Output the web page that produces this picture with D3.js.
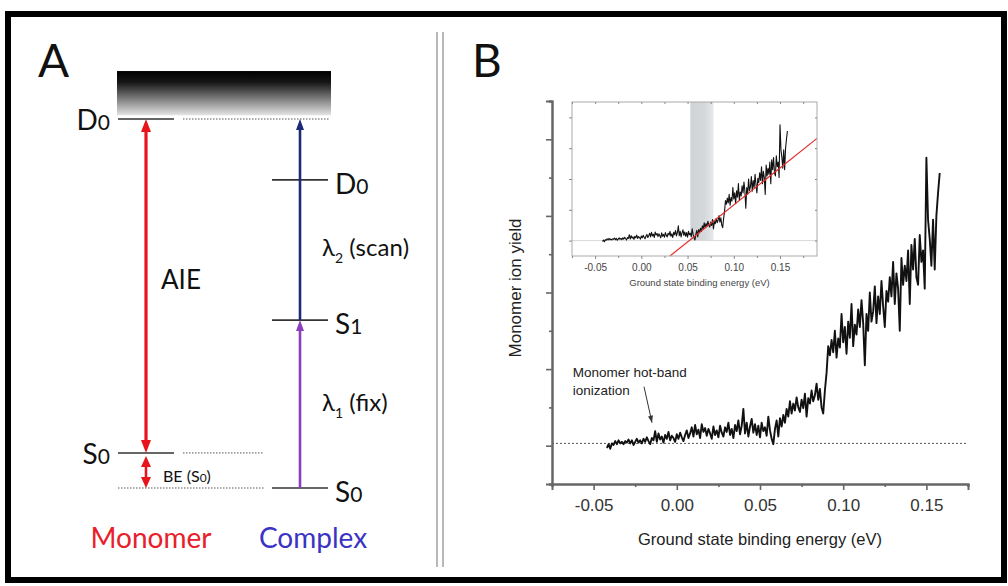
<!DOCTYPE html>
<html>
<head>
<meta charset="utf-8">
<script src="https://cdn.jsdelivr.net/npm/d3@7"></script>
<style>
body { margin: 0; background: #fff; }
svg { display: block; }
</style>
</head>
<body>
<div id="chart"></div>
<script>
// panel A : energy levels, arbitrary units (complex S0 = 0, ionization D0 = 10)
var levelNames = ["D", "S", "D", "S", "S"];
var levelSubs = ["0", "0", "0", "1", "0"];
var levelColumns = ["Monomer", "Monomer", "Complex", "Complex", "Complex"];
var levelEnergy = [10, 0.95, 8.35, 4.55, 0];
var levelSide = ["left", "left", "right", "right", "right"];

var transFrom = [10, 0.95, 0, 4.55];
var transTo = [0.95, 0, 4.55, 10];
var transColumns = ["Monomer", "Monomer", "Complex", "Complex"];
var transColors = ["#e8141c", "#e8141c", "#8b3fbf", "#1c2a78"];
var transHeads = ["both", "both", "end", "end"];

var columnNames = ["Monomer", "Complex"];
var columnColors = ["#e8202a", "#3a33c4"];
var continuumTop = 11.3;

// panel B : monomer ion yield vs ground state binding energy
var xTicks = [-0.05, 0.00, 0.05, 0.10, 0.15];
var xMinor = [-0.075, -0.025, 0.025, 0.075, 0.125, 0.175];
var yTicks = [0, 1, 2, 3, 4];
var yMinor = [-0.5, 0.5, 1.5, 2.5, 3.5, 4.5];
var insetMinor = [-0.075, -0.025, 0.025, 0.075, 0.125, 0.175];

var traceStart = -0.042;
var traceStep = 0.001;
var traceY = [
	-0.03, 0.02, -0.04, 0.03, 0.01, 0.06, 0.02, 0.07, 0.03, 0.05,
	0.02, 0.06, 0.04, 0.08, 0.03, 0.07, 0.01, 0.05, 0.09, 0.04,
	0.07, 0.03, 0.09, 0.05, 0.11, 0.06, 0.02, 0.10, 0.07, 0.19,
	0.05, 0.16, 0.08, 0.12, 0.04, 0.14, 0.09, 0.18, 0.07, 0.13,
	0.10, 0.05, 0.15, 0.09, 0.17, 0.11, 0.06, 0.14, 0.20, 0.10,
	0.16, 0.24, 0.12, 0.27, 0.15, 0.21, 0.10, 0.28, 0.18, 0.23,
	0.13, 0.22, 0.16, 0.09, 0.25, 0.14, 0.20, 0.11, 0.26, 0.17,
	0.12, 0.24, 0.18, 0.30, 0.14, 0.22, 0.10, 0.27, 0.19, 0.33,
	0.15, 0.26, 0.48, 0.16, 0.30, 0.12, 0.25, 0.35, 0.17, 0.28,
	0.14, 0.26, 0.11, 0.30, 0.19, 0.24, 0.13, 0.38, 0.20, 0.09,
	0.02, 0.22, 0.33, 0.12, 0.36, 0.25, 0.40, 0.30, 0.48, 0.38,
	0.58, 0.42, 0.55, 0.46, 0.63, 0.50, 0.44, 0.60, 0.49, 0.68,
	0.38, 0.62, 0.55, 0.72, 0.58, 0.66, 0.81, 0.60, 0.74, 0.50,
	0.42, 0.72, 0.95, 1.30, 1.18, 1.38, 1.22, 1.50, 1.15, 1.40,
	1.28, 1.72, 1.35, 1.55, 1.20, 1.62, 1.41, 1.85, 1.30, 1.58,
	1.45, 1.78, 1.55, 1.90, 1.60, 1.05, 1.72, 1.50, 2.00, 1.62,
	1.75, 2.08, 1.60, 1.95, 1.72, 2.15, 1.82, 1.55, 2.02, 1.88,
	2.20, 1.95, 2.40, 1.85, 2.25, 2.05, 1.50, 2.45, 2.10, 2.35,
	2.15, 2.55, 1.85, 2.62, 2.30, 2.70, 2.20, 2.10, 2.75, 2.40,
	2.55, 2.05, 3.76, 2.95, 2.70, 2.35, 2.95, 2.30, 3.00, 3.30,
	3.56
];
var baselineY = 0.03;
var fitX = [0.031, 0.19];
var fitY = [-0.5, 3.32];
var bandX = [0.053, 0.078];
var annotText = ["Monomer hot-band", "ionization"];
var annotTextY = [0.9, 0.66];
var annotArrowX = [-0.0197, -0.0149];
var annotArrowY = [0.77, 0.30];

var width = 1008, height = 586;
var fontA = "Lato, 'Open Sans', sans-serif";
var fontB = "'Liberation Sans', Arial, sans-serif";
var fmt = function(d) { return d3.format(".2f")(d).replace("\u2212", "-"); };

var svg = d3.select("#chart").append("svg")
	.attr("width", width)
	.attr("height", height);

svg.append("rect").attr("width", width).attr("height", height).attr("fill", "#fff");

// outer frame + separator
svg.append("rect")
	.attr("x", 8).attr("y", 14)
	.attr("width", 996).attr("height", 566)
	.attr("fill", "none")
	.attr("stroke", "#000")
	.attr("stroke-width", 6);

[437, 443].forEach(function(x) {
	svg.append("line")
		.attr("x1", x).attr("x2", x)
		.attr("y1", 32).attr("y2", 567)
		.attr("stroke", "#9a9a9a")
		.attr("stroke-width", 1.4);
});

svg.append("text").attr("x", 38).attr("y", 77)
	.style("font-family", fontA).style("font-size", "46px").attr("fill", "#111")
	.text("A");
svg.append("text").attr("x", 472).attr("y", 77)
	.style("font-family", fontA).style("font-size", "46px").attr("fill", "#111")
	.text("B");

drawPanelA();
drawPanelB();

function drawPanelA() {
	var yA = d3.scaleLinear().domain([0, 10]).range([488, 119]);
	var xA = d3.scaleOrdinal().domain(columnNames).range([146, 300]);
	var half = 28;
	var g = svg.append("g").attr("id", "panel-a");

	var grad = svg.append("defs").append("linearGradient")
		.attr("id", "continuum")
		.attr("x1", 0).attr("x2", 0).attr("y1", 0).attr("y2", 1);
	grad.append("stop").attr("offset", "0%").attr("stop-color", "#000");
	grad.append("stop").attr("offset", "25%").attr("stop-color", "#151515");
	grad.append("stop").attr("offset", "100%").attr("stop-color", "#e4e4e4");

	g.append("rect")
		.attr("x", xA("Monomer") - half - 1)
		.attr("y", yA(continuumTop))
		.attr("width", xA("Complex") + 31 - (xA("Monomer") - half - 1))
		.attr("height", yA(10.1) - yA(continuumTop))
		.attr("fill", "url(#continuum)");

	// dotted reference lines
	var dots = [
		[xA("Monomer") + 37, xA("Complex") + 30, 10],
		[xA("Monomer") + 37, xA("Complex") - 37, levelEnergy[1]],
		[xA("Monomer") - half, xA("Complex") - 35, 0]
	];
	g.selectAll("line.dot")
		.data(dots)
		.enter()
		.append("line")
		.attr("class", "dot")
		.attr("x1", function(d) { return d[0]; })
		.attr("x2", function(d) { return d[1]; })
		.attr("y1", function(d) { return yA(d[2]); })
		.attr("y2", function(d) { return yA(d[2]); })
		.attr("stroke", "#555")
		.attr("stroke-width", 1)
		.attr("stroke-dasharray", "1.5,1.5");

	g.selectAll("line.level")
		.data(levelEnergy)
		.enter()
		.append("line")
		.attr("class", "level")
		.attr("x1", function(d, i) { return xA(levelColumns[i]) - half; })
		.attr("x2", function(d, i) { return xA(levelColumns[i]) + half; })
		.attr("y1", function(d) { return yA(d); })
		.attr("y2", function(d) { return yA(d); })
		.attr("stroke", "#333")
		.attr("stroke-width", 1.6);

	// transitions
	transFrom.forEach(function(e0, i) {
		var x = xA(transColumns[i]);
		var y0 = yA(e0), y1 = yA(transTo[i]);
		var dir = y1 > y0 ? 1 : -1;
		var big = i == 0;
		var hl = big ? 13 : 11;
		var hw = big ? 10 : (i == 1 ? 10 : 8);
		if (i == 1) y0 = y0 + 3;
		var s0 = y0, s1 = y1;
		if (transHeads[i] == "both") s0 = y0 + dir * (hl - 1);
		s1 = y1 - dir * (hl - 1);
		g.append("line")
			.attr("x1", x).attr("x2", x)
			.attr("y1", s0).attr("y2", s1)
			.attr("stroke", transColors[i])
			.attr("stroke-width", big ? 3.2 : 2.6);
		g.append("path")
			.attr("d", head(x, y1, dir, hw, hl))
			.attr("fill", transColors[i]);
		if (transHeads[i] == "both") {
			g.append("path")
				.attr("d", head(x, y0, -dir, hw, hl))
				.attr("fill", transColors[i]);
		}
	});

	function head(x, tip, dir, w, l) {
		var base = tip - dir * l;
		return "M" + x + "," + tip + "L" + (x - w / 2) + "," + base + "L" + (x + w / 2) + "," + base + "Z";
	}

	// level labels
	levelEnergy.forEach(function(e, i) {
		var left = levelSide[i] == "left";
		var t = g.append("text")
			.attr("x", left ? xA(levelColumns[i]) - 36 : xA(levelColumns[i]) + 35)
			.attr("y", yA(e) + (left ? 11 : 14))
			.attr("text-anchor", left ? "end" : "start")
			.style("font-family", fontA)
			.attr("fill", "#111");
		t.append("tspan").style("font-size", "28px").text(levelNames[i]);
		t.append("tspan").style("font-size", "21px").text(levelSubs[i]);
	});

	g.append("text")
		.attr("x", xA("Monomer") + 15).attr("y", yA(5.4))
		.style("font-family", fontA).style("font-size", "26px").attr("fill", "#111")
		.text("AIE");

	var be = g.append("text")
		.attr("x", xA("Monomer") + 17).attr("y", yA(0.15))
		.style("font-family", fontA).style("font-size", "16px").attr("fill", "#111");
	be.append("tspan").text("BE (S");
	be.append("tspan").style("font-size", "12px").text("0");
	be.append("tspan").text(")");

	var lam = [["2", " (scan)", 6.3], ["1", " (fix)", 2.1]];
	lam.forEach(function(d) {
		var t = g.append("text")
			.attr("x", xA("Complex") + 22).attr("y", yA(d[2]))
			.style("font-family", fontA).style("font-size", "24px").attr("fill", "#111");
		t.append("tspan").text("λ");
		t.append("tspan").attr("dy", 7).style("font-size", "14px").text(d[0]);
		t.append("tspan").attr("dy", -7).text(d[1]);
	});

	g.selectAll("text.col")
		.data(columnNames)
		.enter()
		.append("text")
		.attr("class", "col")
		.attr("x", function(d) { return xA(d) + (d == "Monomer" ? 5 : 13); })
		.attr("y", 548)
		.attr("text-anchor", "middle")
		.style("font-family", fontA)
		.style("font-size", "28px")
		.attr("fill", function(d, i) { return columnColors[i]; })
		.text(function(d) { return d; });
}

function drawPanelB() {
	var x = d3.scaleLinear().domain([-0.075, 0.175]).range([552, 968]);
	var y = d3.scaleLinear().domain([-0.5, 4.5]).range([484, 101]);
	var trace = traceY.map(function(v, i) { return [traceStart + i * traceStep, v]; });
	var g = svg.append("g").attr("id", "panel-b").style("font-family", fontB);

	g.append("line")
		.attr("x1", x(-0.075)).attr("x2", x(0.175))
		.attr("y1", y(baselineY)).attr("y2", y(baselineY))
		.attr("stroke", "#555")
		.attr("stroke-width", 1)
		.attr("stroke-dasharray", "2,2");

	var line = d3.line()
		.x(function(d) { return x(d[0]); })
		.y(function(d) { return y(d[1]); });

	g.append("path")
		.datum(trace)
		.attr("d", line)
		.attr("fill", "none")
		.attr("stroke", "#111")
		.attr("stroke-width", 1.9)
		.attr("stroke-linejoin", "round");

	// axes
	var xAxis = g.append("g").attr("transform", "translate(0," + y(-0.5) + ")")
		.call(d3.axisBottom(x).tickValues(xTicks).tickSize(6).tickPadding(9).tickFormat(fmt));
	g.append("g").attr("transform", "translate(0," + y(-0.5) + ")")
		.call(d3.axisBottom(x).tickValues(xMinor).tickSize(3).tickFormat(""));
	g.append("g").attr("transform", "translate(" + x(-0.075) + ",0)")
		.call(d3.axisLeft(y).tickValues(yTicks).tickSize(6).tickFormat(""));
	g.append("g").attr("transform", "translate(" + x(-0.075) + ",0)")
		.call(d3.axisLeft(y).tickValues(yMinor).tickSize(3).tickFormat(""));
	g.selectAll(".domain").attr("stroke", "#666").attr("stroke-width", 2);
	g.selectAll(".tick line").attr("stroke", "#666").attr("stroke-width", 1.6);
	xAxis.selectAll("text")
		.style("font-family", fontB).style("font-size", "17px").attr("fill", "#333");

	g.append("text")
		.attr("x", 760).attr("y", 545)
		.attr("text-anchor", "middle")
		.style("font-size", "16.5px").attr("fill", "#222")
		.text("Ground state binding energy (eV)");

	g.append("text")
		.attr("transform", "translate(521,288) rotate(-90)")
		.attr("text-anchor", "middle")
		.style("font-size", "17px").attr("fill", "#222")
		.text("Monomer ion yield");

	// annotation
	g.selectAll("text.annot")
		.data(annotText)
		.enter()
		.append("text")
		.attr("class", "annot")
		.attr("x", x(-0.0625))
		.attr("y", function(d, i) { return y(annotTextY[i]); })
		.style("font-size", "13.5px").attr("fill", "#222")
		.text(function(d) { return d; });

	var ax0 = x(annotArrowX[0]), ay0 = y(annotArrowY[0]);
	var ax1 = x(annotArrowX[1]), ay1 = y(annotArrowY[1]);
	g.append("line")
		.attr("x1", ax0).attr("y1", ay0).attr("x2", ax1).attr("y2", ay1)
		.attr("stroke", "#333").attr("stroke-width", 1);
	var ang = Math.atan2(ay1 - ay0, ax1 - ax0);
	var hl = 7, hw = 2.5;
	g.append("path")
		.attr("d", "M" + ax1 + "," + ay1
			+ "L" + (ax1 - hl * Math.cos(ang) + hw * Math.sin(ang)) + "," + (ay1 - hl * Math.sin(ang) - hw * Math.cos(ang))
			+ "L" + (ax1 - hl * Math.cos(ang) - hw * Math.sin(ang)) + "," + (ay1 - hl * Math.sin(ang) + hw * Math.cos(ang)) + "Z")
		.attr("fill", "#333");

	drawInset(trace);
}

function drawInset(trace) {
	var xi = d3.scaleLinear().domain([-0.075, 0.19]).range([572, 817]);
	var yi = d3.scaleLinear().domain([-0.5, 4.5]).range([256, 102]);
	var g = svg.append("g").attr("id", "inset").style("font-family", fontB);

	g.append("rect")
		.attr("x", xi(-0.075)).attr("y", yi(4.5))
		.attr("width", xi(0.19) - xi(-0.075)).attr("height", yi(-0.5) - yi(4.5))
		.attr("fill", "#fff");

	var bg = svg.select("defs").append("linearGradient")
		.attr("id", "band").attr("x1", 0).attr("x2", 1).attr("y1", 0).attr("y2", 0);
	bg.append("stop").attr("offset", "0%").attr("stop-color", "#cfd3d6");
	bg.append("stop").attr("offset", "60%").attr("stop-color", "#d5d8db");
	bg.append("stop").attr("offset", "100%").attr("stop-color", "#e6e8ea");

	g.append("rect")
		.attr("x", xi(bandX[0])).attr("y", yi(4.5))
		.attr("width", xi(bandX[1]) - xi(bandX[0]))
		.attr("height", yi(0) - yi(4.5))
		.attr("fill", "url(#band)");

	g.append("line")
		.attr("x1", xi(-0.075)).attr("x2", xi(0.19))
		.attr("y1", yi(0)).attr("y2", yi(0))
		.attr("stroke", "#d8d8d8").attr("stroke-width", 1);

	var line = d3.line()
		.x(function(d) { return xi(d[0]); })
		.y(function(d) { return yi(d[1]); });
	g.append("path")
		.datum(trace)
		.attr("d", line)
		.attr("fill", "none")
		.attr("stroke", "#111")
		.attr("stroke-width", 1.1)
		.attr("stroke-linejoin", "round");

	g.append("line")
		.attr("x1", xi(fitX[0])).attr("y1", yi(fitY[0]))
		.attr("x2", xi(fitX[1])).attr("y2", yi(fitY[1]))
		.attr("stroke", "#e0302e").attr("stroke-width", 1.2);

	g.append("rect")
		.attr("x", xi(-0.075)).attr("y", yi(4.5))
		.attr("width", xi(0.19) - xi(-0.075)).attr("height", yi(-0.5) - yi(4.5))
		.attr("fill", "none").attr("stroke", "#aaa").attr("stroke-width", 1);

	var xa = g.append("g").attr("transform", "translate(0," + yi(-0.5) + ")")
		.call(d3.axisBottom(xi).tickValues(xTicks).tickSize(3).tickPadding(5).tickFormat(fmt));
	g.append("g").attr("transform", "translate(0," + yi(-0.5) + ")")
		.call(d3.axisBottom(xi).tickValues(insetMinor).tickSize(2).tickFormat(""));
	g.append("g").attr("transform", "translate(0," + yi(4.5) + ")")
		.call(d3.axisBottom(xi).tickValues(xTicks.concat(insetMinor)).tickSize(2).tickFormat(""));
	g.append("g").attr("transform", "translate(" + xi(-0.075) + ",0)")
		.call(d3.axisLeft(yi).tickValues(yTicks).tickSize(3).tickFormat(""));
	g.append("g").attr("transform", "translate(" + xi(0.19) + ",0)")
		.call(d3.axisLeft(yi).tickValues(yTicks).tickSize(2).tickFormat(""));
	g.selectAll(".domain").attr("stroke", "none");
	g.selectAll(".tick line").attr("stroke", "#888").attr("stroke-width", 1);
	xa.selectAll("text")
		.style("font-family", fontB).style("font-size", "10px").attr("fill", "#444");

	g.append("text")
		.attr("x", (xi(-0.075) + xi(0.19)) / 2 + 5).attr("y", 286)
		.attr("text-anchor", "middle")
		.style("font-size", "9.5px").attr("fill", "#444")
		.text("Ground state binding energy (eV)");
}
</script>
</body>
</html>
